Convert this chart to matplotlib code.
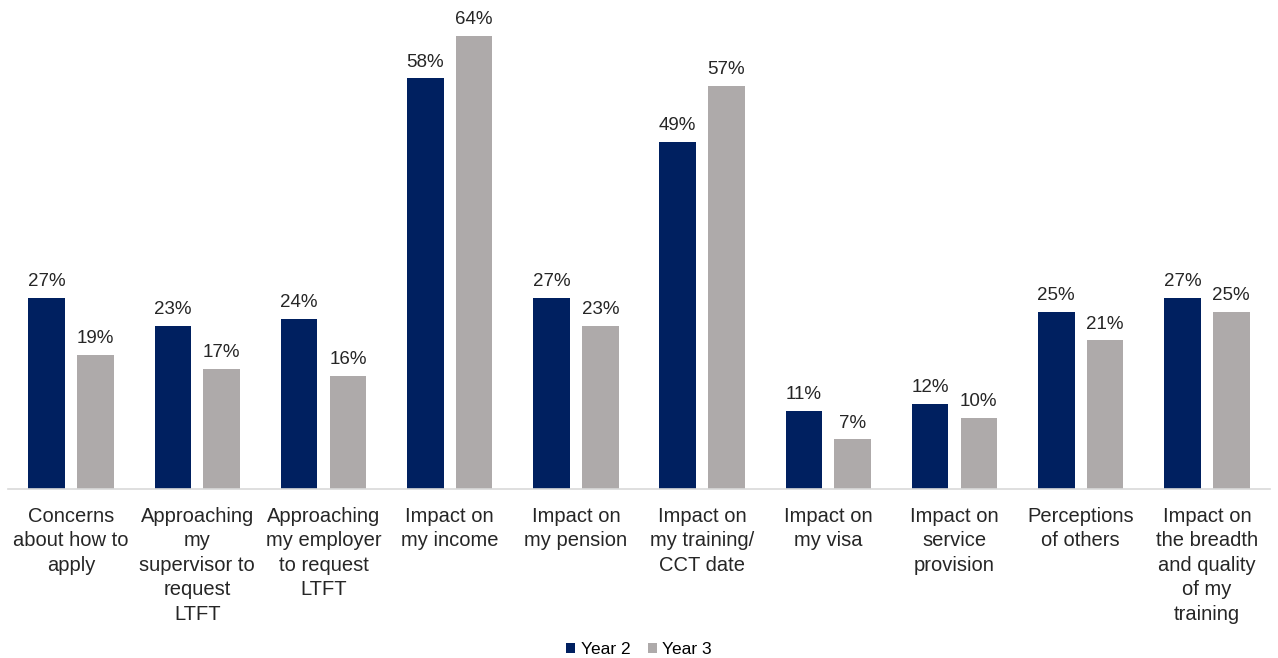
import numpy as np
import matplotlib.pyplot as plt

plt.rcParams['font.family'] = ['Liberation Sans', 'DejaVu Sans']

categories = ['Concerns\nabout how to\napply',
              'Approaching\nmy\nsupervisor to\nrequest\nLTFT',
              'Approaching\nmy employer\nto request\nLTFT',
              'Impact on\nmy income',
              'Impact on\nmy pension',
              'Impact on\nmy training/\nCCT date',
              'Impact on\nmy visa',
              'Impact on\nservice\nprovision',
              'Perceptions\nof others',
              'Impact on\nthe breadth\nand quality\nof my\ntraining']
year2 = [27, 23, 24, 58, 27, 49, 11, 12, 25, 27]
year3 = [19, 17, 16, 64, 23, 57, 7, 10, 21, 25]

navy = '#002060'
grey = '#AEAAAA'

fig = plt.figure(figsize=(12.78, 6.58), dpi=100)
ax = fig.add_axes([0.0063, 0.2568, 0.9874, 0.6885])

x = np.arange(len(categories))
w = 0.29
off = 0.193
b2 = ax.bar(x - off, year2, w, color=navy, label='Year 2')
b3 = ax.bar(x + off, year3, w, color=grey, label='Year 3')

for bars, vals in ((b2, year2), (b3, year3)):
    for b, v in zip(bars, vals):
        ax.text(b.get_x() + b.get_width() / 2, v + 1.1, f'{v}%',
                ha='center', va='bottom', fontsize=13.5, color='#262626',
                clip_on=False)

ax.set_xlim(-0.5, len(categories) - 0.5)
ax.set_ylim(0, 64)
ax.set_xticks(x)
ax.set_xticklabels(categories, fontsize=14.5, color='#262626', linespacing=1.36,
                   va='top')
ax.tick_params(axis='x', length=0, pad=13)
ax.set_yticks([])
for s in ['top', 'right', 'left']:
    ax.spines[s].set_visible(False)
ax.spines['bottom'].set_color('#D9D9D9')
ax.spines['bottom'].set_linewidth(1.2)

fig.legend(handles=[b2, b3], loc='center', bbox_to_anchor=(0.5, 0.013),
           ncol=2, frameon=False, fontsize=12.5, handlelength=0.55,
           handleheight=0.55, handletextpad=0.3, columnspacing=1.0)

fig.savefig('out.png', dpi=100)
